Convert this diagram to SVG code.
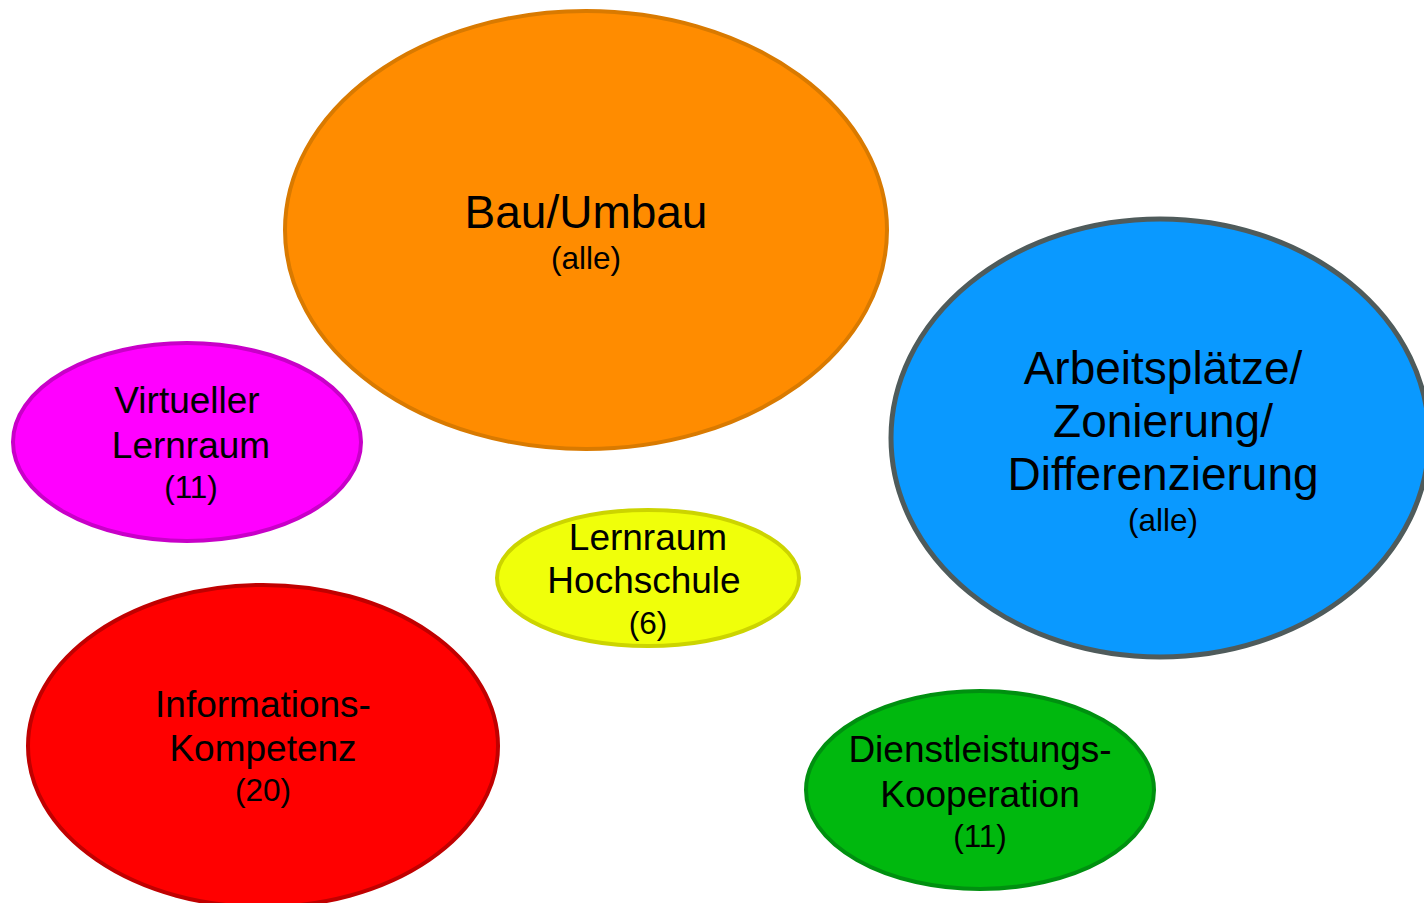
<svg xmlns="http://www.w3.org/2000/svg" width="1424" height="903" viewBox="0 0 1424 903">
<style>
.n{stroke-width:4}
text{font-family:"Liberation Sans",Arial,sans-serif;fill:#000;text-anchor:middle}
.b{font-size:46px}
.m{font-size:37px}
.s{font-size:31.5px}
</style>
<rect width="1424" height="903" fill="#fff"/>
<g id="connectors"></g>
<g id="bau">
<ellipse class="n" cx="586" cy="230" rx="301" ry="219" fill="#FF8C00" stroke="#D97A00"/>
<text class="b" x="586" y="228">Bau/Umbau</text>
<text class="s" x="586" y="269">(alle)</text>
</g>
<g id="virtuell">
<ellipse class="n" cx="187" cy="442" rx="174" ry="99" fill="#FF00FF" stroke="#C800C8"/>
<text class="m" x="187" y="413">Virtueller</text>
<text class="m" x="191" y="458">Lernraum</text>
<text class="s" x="191" y="498">(11)</text>
</g>
<g id="arbeit">
<ellipse cx="1160" cy="438" rx="269" ry="219" fill="#0A99FF" stroke="#4F5B5B" stroke-width="5"/>
<text class="b" x="1163" y="384">Arbeitsplätze/</text>
<text class="b" x="1163" y="437">Zonierung/</text>
<text class="b" x="1163" y="490">Differenzierung</text>
<text class="s" x="1163" y="531">(alle)</text>
</g>
<g id="hochschule">
<ellipse class="n" cx="648" cy="578" rx="151" ry="68" fill="#F0FF0A" stroke="#CCD400"/>
<text class="m" x="648" y="550">Lernraum</text>
<text class="m" x="644" y="593">Hochschule</text>
<text class="s" x="648" y="634">(6)</text>
</g>
<g id="info">
<ellipse class="n" cx="263" cy="746" rx="235" ry="161" fill="#FF0000" stroke="#C00000"/>
<text class="m" x="263" y="717">Informations-</text>
<text class="m" x="263" y="761">Kompetenz</text>
<text class="s" x="263" y="801">(20)</text>
</g>
<g id="dienst">
<ellipse class="n" cx="980" cy="790" rx="174" ry="99" fill="#00B80E" stroke="#009010"/>
<text class="m" x="980" y="762">Dienstleistungs-</text>
<text class="m" x="980" y="807">Kooperation</text>
<text class="s" x="980" y="847">(11)</text>
</g>
</svg>
